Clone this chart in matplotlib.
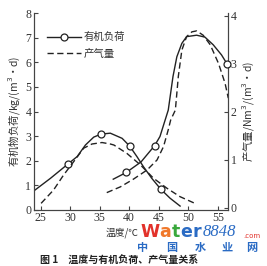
import matplotlib.pyplot as plt

plt.rcParams['font.family'] = ['Noto Sans CJK SC', 'DejaVu Sans']

# organic load (left axis), solid with circles
load_t = [23.9, 26.7, 29.6, 31.2, 32.6, 34.0, 35.2, 36.8, 38.8, 40.06, 41.3, 42.4, 43.8, 45.35, 46.9, 48.6]
load_v = [0.78, 1.29, 1.86, 2.17, 2.64, 2.96, 3.08, 3.12, 2.91, 2.60, 2.17, 1.76, 1.29, 0.84, 0.48, 0.16]
load_mk = [2, 6, 9, 13]

# organic load, dashed
load2_t = [25.1, 27.2, 28.9, 30.6, 32.3, 33.7, 35.4, 36.8, 37.4, 39.6, 41.9, 44.1, 46.4, 48.6, 51.1]
load2_v = [0.27, 0.81, 1.42, 1.96, 2.51, 2.68, 2.74, 2.68, 2.64, 2.30, 1.83, 1.29, 0.88, 0.54, 0.27]

# gas production (right axis), solid with circles
gas_t = [37.3, 39.5, 42.0, 44.3, 45.2, 46.6, 47.4, 48.05, 48.9, 49.7, 51.4, 52.8, 54.2, 55.6, 56.5]
gas_v = [0.60, 0.74, 0.96, 1.30, 1.49, 2.04, 2.74, 3.15, 3.43, 3.57, 3.60, 3.56, 3.40, 3.19, 3.01]
gas_mk = [1, 3, 14]

# gas production, dashed
gas2_t = [36.2, 38.5, 40.7, 43.0, 44.7, 45.8, 46.6, 47.0, 47.8, 48.3, 48.9, 49.7, 50.6, 51.4, 52.5, 53.7, 55.1, 56.2, 56.75]
gas2_v = [0.32, 0.44, 0.60, 0.79, 1.00, 1.28, 1.63, 1.83, 2.04, 2.74, 3.29, 3.57, 3.67, 3.69, 3.60, 3.40, 3.01, 2.60, 2.29]

xticks = [25, 30, 35, 40, 45, 50, 55]
lticks = [0, 1, 2, 3, 4, 5, 6, 7, 8]
rticks = [0, 1, 2, 3, 4]

fig = plt.figure(figsize=(2.67, 2.66), dpi=100)
ax = fig.add_axes([34/267, 56/266, 194/267, 197/266])
ax2 = ax.twinx()

mk = dict(marker='o', ms=5, mfc='white', mec='#222222', mew=0.9)
l1, = ax.plot(load_t, load_v, color='#222222', lw=1.0, markevery=load_mk, **mk)
l2, = ax.plot(load2_t, load2_v, color='#222222', lw=1.0, ls=(0, (4.5, 2.5)))
ax2.plot(gas_t, gas_v, color='#222222', lw=1.0, markevery=gas_mk, zorder=3, clip_on=False, **mk)
ax2.plot(gas2_t, gas2_v, color='#222222', lw=1.0, ls=(0, (4.5, 2.5)))

ax.set_xlim(23.9, 56.7)
ax.set_ylim(0, 8)
ax2.set_ylim(-0.042, 4.0625)
ax.set_xticks(xticks)
ax.set_yticks(lticks)
ax2.set_yticks(rticks)

for a in (ax, ax2):
    a.spines['top'].set_visible(False)
    for s in a.spines.values():
        s.set_color('#444444')
        s.set_linewidth(0.8)
    a.tick_params(direction='in', length=3, width=0.8, color='#444444', labelsize=8.5,
                  labelcolor='#333333', pad=2)
    for lab in a.get_xticklabels() + a.get_yticklabels():
        lab.set_fontfamily('Liberation Serif')
ax.tick_params(axis='x', pad=1.5)

ax.set_ylabel('有机物负荷/kg/(m$^3$·d)', fontsize=7.5, color='#333333', labelpad=2)
ax2.set_ylabel('产气量/Nm$^3$/(m$^3$·d)', fontsize=7.5, color='#333333', rotation=90, labelpad=2)

ax.legend([l1, l2], ['有机负荷', '产气量'], loc='upper left', bbox_to_anchor=(0.02, 0.95),
          frameon=False, fontsize=7.5, handlelength=3.2, handletextpad=0.3, labelspacing=0.6,
          labelcolor='#333333')

fig.text(139/267, 1 - 233/266, '温度/℃', fontsize=7, color='#333333', ha='right', va='center')

# watermark, letters placed one after another
fig.canvas.draw()
r = fig.canvas.get_renderer()
wcols = ['#e2322b', '#f0782a', '#39a83c', '#2a6bc4', '#2a6bc4']
xx = 140
for ch, c in zip('Water', wcols):
    t = fig.text(xx/267, 1 - 232/266, ch, fontsize=12.5, fontweight='bold', color=c,
                 family='DejaVu Sans', ha='left', va='center')
    xx = t.get_window_extent(r).x1 + 0.3
fig.text(xx/267 + 0.005, 1 - 232/266, '8848', fontsize=12, style='italic', color='#2a6bc4',
         family='Liberation Serif', ha='left', va='center')
fig.text(243/267, 1 - 236/266, '.com', fontsize=5, color='#e2322b', ha='left', va='center',
         family='DejaVu Sans')
for x, ch in zip([143, 172, 200, 227, 252], '中国水业网'):
    fig.text(x/267, 1 - 247.5/266, ch, fontsize=8, fontweight='bold', color='#2a6bc4',
             ha='center', va='center')

fig.text(40/267, 1 - 260/266, '图 1　温度与有机负荷、产气量关系', fontsize=7.2, fontweight='bold',
         color='#222222', ha='left', va='center')

fig.savefig('out.png', dpi=100)
